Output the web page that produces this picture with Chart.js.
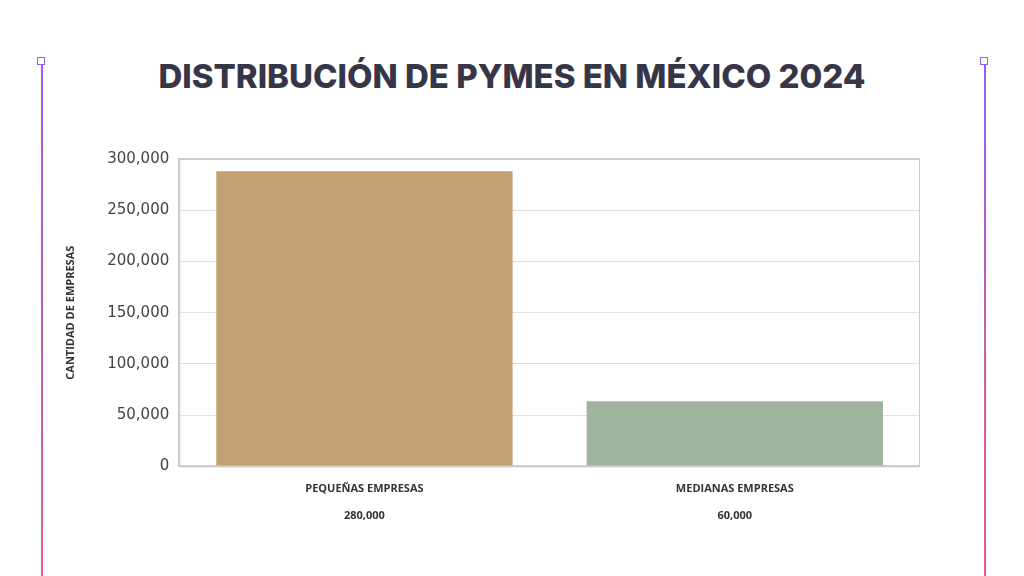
<!DOCTYPE html>
<html><head><meta charset="utf-8">
<script src="https://cdn.jsdelivr.net/npm/chart.js@4"></script>
<style>
body{margin:0;width:1024px;height:576px;background:#fff;position:relative;overflow:hidden;font-family:"Open Sans",sans-serif}
.vl{position:absolute;top:64px;width:2px;height:520px;background:linear-gradient(#9a5cf0,#e8607a)}
.sq{position:absolute;top:57px;width:6px;height:6px;border:1.5px solid #9a5cf0;background:#fff}
h1{position:absolute;top:56px;left:0;width:1024px;text-align:center;margin:0;font-family:Inter,sans-serif;font-weight:800;font-size:33px;color:#363648;letter-spacing:0px}
#wrap{position:absolute;left:60px;top:140px;width:860px;height:390px}
</style></head><body>
<div class="vl" style="left:41px"></div><div class="sq" style="left:37px"></div>
<div class="vl" style="left:984px"></div><div class="sq" style="left:980px"></div>
<h1>DISTRIBUCIÓN DE PYMES EN MÉXICO 2024</h1>
<div id="wrap"><canvas id="c"></canvas></div>
<script>
const categories=["PEQUEÑAS EMPRESAS","MEDIANAS EMPRESAS"];
const valueLabels=["280,000","60,000"];
const values=[288000,63500];
const colors=["#c4a173","#9fb39f"];
new Chart(document.getElementById('c'),{type:'bar',
data:{labels:categories.map((c,i)=>[c,'',valueLabels[i]]),datasets:[{data:values,backgroundColor:colors,barPercentage:0.8,categoryPercentage:1}]},
options:{responsive:true,maintainAspectRatio:false,animation:false,
layout:{padding:{top:14}},
plugins:{legend:{display:false},tooltip:{enabled:false}},
scales:{
x:{grid:{display:false},border:{color:'#ccc',width:2},ticks:{color:'#333',font:{family:'Open Sans',weight:'bold',size:11},padding:8,maxRotation:0}},
y:{min:0,max:300000,ticks:{stepSize:50000,color:'#444',font:{family:'DejaVu Sans',size:15},padding:10},
grid:{color:'#e0e0e0',drawTicks:false},border:{color:'#ccc',width:2},
title:{display:true,text:'CANTIDAD DE EMPRESAS',color:'#333',font:{family:'Open Sans',weight:'bold',size:11},padding:{bottom:20}}}
}},
plugins:[{id:'box',afterDraw(ch){const a=ch.chartArea,c=ch.ctx;c.save();c.strokeStyle='#ccc';c.lineWidth=2;c.strokeRect(a.left,a.top,a.right-a.left,a.bottom-a.top);c.restore();}}]
});
</script></body></html>
